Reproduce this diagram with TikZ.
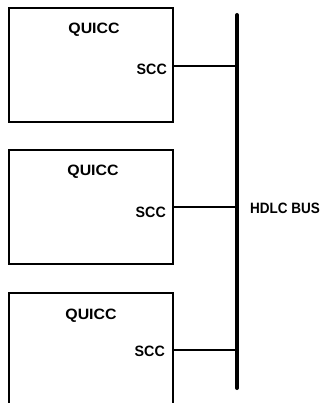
\documentclass[tikz,border=0pt]{standalone}
\usepackage{fontspec}
\setmainfont{Liberation Sans}
\usetikzlibrary{positioning}

\tikzset{
  chip/.style={draw, line width=2pt, minimum width=164pt, minimum height=114pt, inner sep=0pt},
  lbl/.style={font=\bfseries\fontsize{15}{15}\selectfont, inner sep=0pt},
  tap/.style={line width=1.5pt},
  bus/.style={line width=4pt, line cap=round}
}

\begin{document}
\begin{tikzpicture}[x=1pt, y=-1pt]
  \useasboundingbox (0,0) rectangle (323,403);
  \clip (0,0) rectangle (323,403);

  % QUICC 方框
  \node[chip] (quicc1) at (91,65.5) {};
  \node[chip] (quicc2) at (91,207) {};
  \node[chip] (quicc3) at (91,350) {};

  % 文字
  \node[lbl, xscale=1.06] (name1) at (94,30) {QUICC};
  \node[lbl, xscale=1.06] (name2) at (93,172) {QUICC};
  \node[lbl, xscale=1.06] (name3) at (91,316) {QUICC};
  \node[lbl, anchor=east, xscale=0.95] (scc1) at (167,69.5) {SCC};
  \node[lbl, anchor=east, xscale=0.95] (scc2) at (166,212) {SCC};
  \node[lbl, anchor=east, xscale=0.95] (scc3) at (165,351.5) {SCC};

  % HDLC 总线
  \coordinate (bustop) at (237,15);
  \coordinate (busbot) at (237,388);
  \draw[bus] (bustop) -- (busbot);
  \node[lbl, anchor=west, xscale=0.9] (hdlc) at (250,208) {HDLC BUS};

  % 连线
  \coordinate (tap1) at (237,66);
  \coordinate (tap2) at (237,207);
  \coordinate (tap3) at (237,350);
  \draw[tap] (quicc1.east |- tap1) -- (tap1);
  \draw[tap] (quicc2.east |- tap2) -- (tap2);
  \draw[tap] (quicc3.east |- tap3) -- (tap3);
\end{tikzpicture}
\end{document}
